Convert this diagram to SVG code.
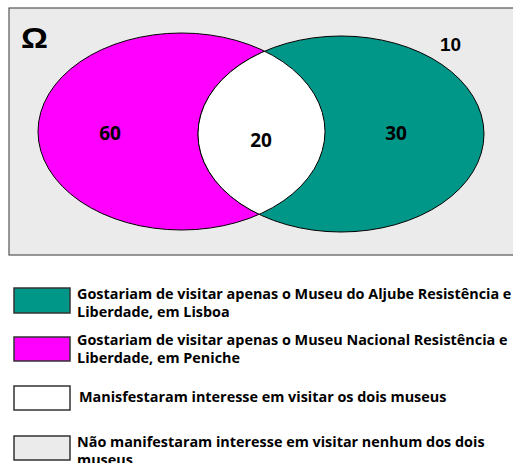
<svg xmlns="http://www.w3.org/2000/svg" width="513" height="463" viewBox="0 0 513 463">
<style>
.lbl{font-family:"Open Sans","Noto Sans",sans-serif;font-weight:bold;font-size:19px;fill:#000}
.leg{font-family:"Open Sans","Noto Sans",sans-serif;font-weight:bold;font-size:14.4px;fill:#000}
.box{stroke:#333;stroke-width:1.5}
.ell{stroke:#000;stroke-width:1}
</style>
<defs>
<clipPath id="clipL"><ellipse cx="181.5" cy="131.5" rx="143.5" ry="98.5"/></clipPath>
<clipPath id="clipR"><ellipse cx="341" cy="134" rx="143" ry="98"/></clipPath>
</defs>
<rect x="0" y="0" width="513" height="463" fill="#fff"/>
<g id="universe">
<rect x="9" y="8" width="520" height="247" fill="#ebebeb" stroke="#555" stroke-width="1.2"/>
<text x="21" y="48" font-family="Liberation Sans, Arial, sans-serif" font-weight="bold" font-size="30" transform="translate(21 48) scale(1.12 1) translate(-21 -48)">Ω</text>
<text x="440" y="51" font-family="Liberation Sans, Arial, sans-serif" font-weight="bold" font-size="19">10</text>
</g>
<g id="setA">
<ellipse class="ell" cx="181.5" cy="131.5" rx="143.5" ry="98.5" fill="#ff00ff"/>
</g>
<g id="setB">
<ellipse class="ell" cx="341" cy="134" rx="143" ry="98" fill="#009688"/>
</g>
<g id="intersection">
<ellipse class="ell" cx="341" cy="134" rx="143" ry="98" fill="#ffffff" clip-path="url(#clipL)"/>
<ellipse cx="181.5" cy="131.5" rx="143.5" ry="98.5" fill="none" stroke="#000" stroke-width="1" clip-path="url(#clipR)"/>
</g>
<g id="counts">
<text class="lbl" x="110" y="140" text-anchor="middle">60</text>
<text class="lbl" x="261" y="147" text-anchor="middle">20</text>
<text class="lbl" x="396" y="140" text-anchor="middle">30</text>
</g>
<g id="legend">
<rect class="box" x="14" y="288" width="56" height="25" fill="#009688"/>
<text class="leg" x="77" y="299">Gostariam de visitar apenas o Museu do Aljube Resistência e</text>
<text class="leg" x="77" y="317">Liberdade, em Lisboa</text>
<rect class="box" x="14" y="337" width="56" height="24" fill="#ff00ff"/>
<text class="leg" x="77" y="345">Gostariam de visitar apenas o Museu Nacional Resistência e</text>
<text class="leg" x="77" y="363">Liberdade, em Peniche</text>
<rect class="box" x="14" y="386" width="56" height="24" fill="#ffffff"/>
<text class="leg" x="79" y="402">Manisfestaram interesse em visitar os dois museus</text>
<rect class="box" x="14" y="436" width="56" height="24" fill="#ebebeb"/>
<text class="leg" x="77" y="447">Não manifestaram interesse em visitar nenhum dos dois</text>
<text class="leg" x="77" y="465">museus</text>
</g>
</svg>
